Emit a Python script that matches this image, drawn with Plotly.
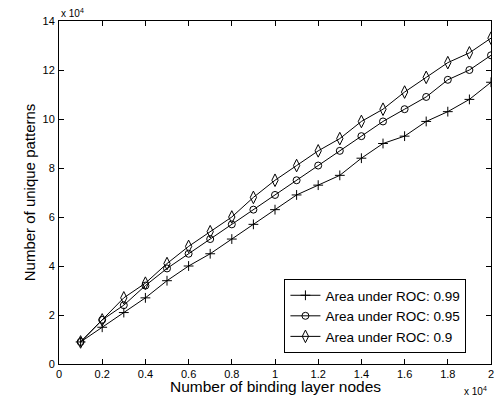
import plotly.graph_objects as go

x_nodes = [0.1, 0.2, 0.3, 0.4, 0.5, 0.6, 0.7, 0.8, 0.9, 1.0,
           1.1, 1.2, 1.3, 1.4, 1.5, 1.6, 1.7, 1.8, 1.9, 2.0]
auc_099 = [0.9, 1.5, 2.1, 2.7, 3.4, 4.0, 4.5, 5.1, 5.7, 6.3,
           6.9, 7.3, 7.7, 8.4, 9.0, 9.3, 9.9, 10.3, 10.8, 11.5]
auc_095 = [0.9, 1.8, 2.4, 3.2, 3.9, 4.5, 5.1, 5.7, 6.3, 6.9,
           7.5, 8.1, 8.7, 9.3, 9.9, 10.4, 10.9, 11.6, 12.0, 12.6]
auc_090 = [0.9, 1.8, 2.7, 3.3, 4.1, 4.8, 5.4, 6.0, 6.8, 7.5,
           8.1, 8.7, 9.2, 9.9, 10.4, 11.1, 11.7, 12.3, 12.7, 13.3]
series_names = ["Area under ROC: 0.99", "Area under ROC: 0.95", "Area under ROC: 0.9"]

FONT = "Liberation Sans, Arial, Helvetica, sans-serif"
W, H = 498, 400
ML, MR, MT, MB = 59, 4, 21, 36
PW, PH = W - ML - MR, H - MT - MB

fig = go.Figure()
fig.add_trace(go.Scatter(x=x_nodes, y=auc_099, mode="lines+markers", name=series_names[0],
                         line=dict(color="black", width=1),
                         marker=dict(symbol="cross-thin-open", size=7, color="black",
                                     line=dict(color="black", width=1))))
fig.add_trace(go.Scatter(x=x_nodes, y=auc_095, mode="lines+markers", name=series_names[1],
                         line=dict(color="black", width=1),
                         marker=dict(symbol="circle-open", size=7, color="black",
                                     line=dict(color="black", width=1))))
fig.add_trace(go.Scatter(x=x_nodes, y=auc_090, mode="lines+markers", name=series_names[2],
                         line=dict(color="black", width=1),
                         marker=dict(symbol="diamond-tall-open", size=9, color="black",
                                     line=dict(color="black", width=1))))

axis_common = dict(showline=True, linecolor="black", linewidth=1, mirror="allticks",
                   ticks="inside", ticklen=5, tickcolor="black", tickwidth=1,
                   showgrid=False, zeroline=False, ticklabeloverflow="allow",
                   tickfont=dict(family=FONT, size=11, color="black"))

fig.update_xaxes(range=[0, 2], tick0=0, dtick=0.2, **axis_common)
fig.update_yaxes(range=[0, 14], tick0=0, dtick=2, ticklabelstandoff=1, **axis_common)

fig.update_layout(
    width=W, height=H,
    margin=dict(l=ML, r=MR, t=MT, b=MB),
    plot_bgcolor="white", paper_bgcolor="white",
    font=dict(family=FONT, color="black"),
    showlegend=True,
    legend=dict(x=(286 - ML) / PW, xanchor="left", y=(H - MB - 353) / PH, yanchor="bottom",
                bordercolor="black", borderwidth=1, bgcolor="white",
                font=dict(family=FONT, size=13.5, color="black"),
                tracegroupgap=0, itemwidth=30),
    annotations=[
        dict(text="Number of binding layer nodes", x=0.5, xref="paper",
             y=-(386 - (H - MB)) / PH, yref="paper", yanchor="middle",
             showarrow=False, font=dict(family=FONT, size=15.5, color="black")),
        dict(text="Number of unique patterns", x=(19 - ML) / PW, xref="paper",
             y=0.5, yref="paper", textangle=-90, showarrow=False,
             font=dict(family=FONT, size=15, color="black")),
        dict(text="x 10<sup>4</sup>", x=0, xref="paper", y=1 + 8 / PH, yref="paper",
             xanchor="left", yanchor="middle", showarrow=False,
             font=dict(family=FONT, size=10, color="black")),
        dict(text="x 10<sup>4</sup>", x=(492 - ML) / PW, xref="paper",
             y=-(391 - (H - MB)) / PH, yref="paper",
             xanchor="right", yanchor="middle", showarrow=False,
             font=dict(family=FONT, size=10, color="black")),
    ],
)
fig.write_html("out.html", config={"displayModeBar": False},
               post_script="document.body.style.margin='0';")
